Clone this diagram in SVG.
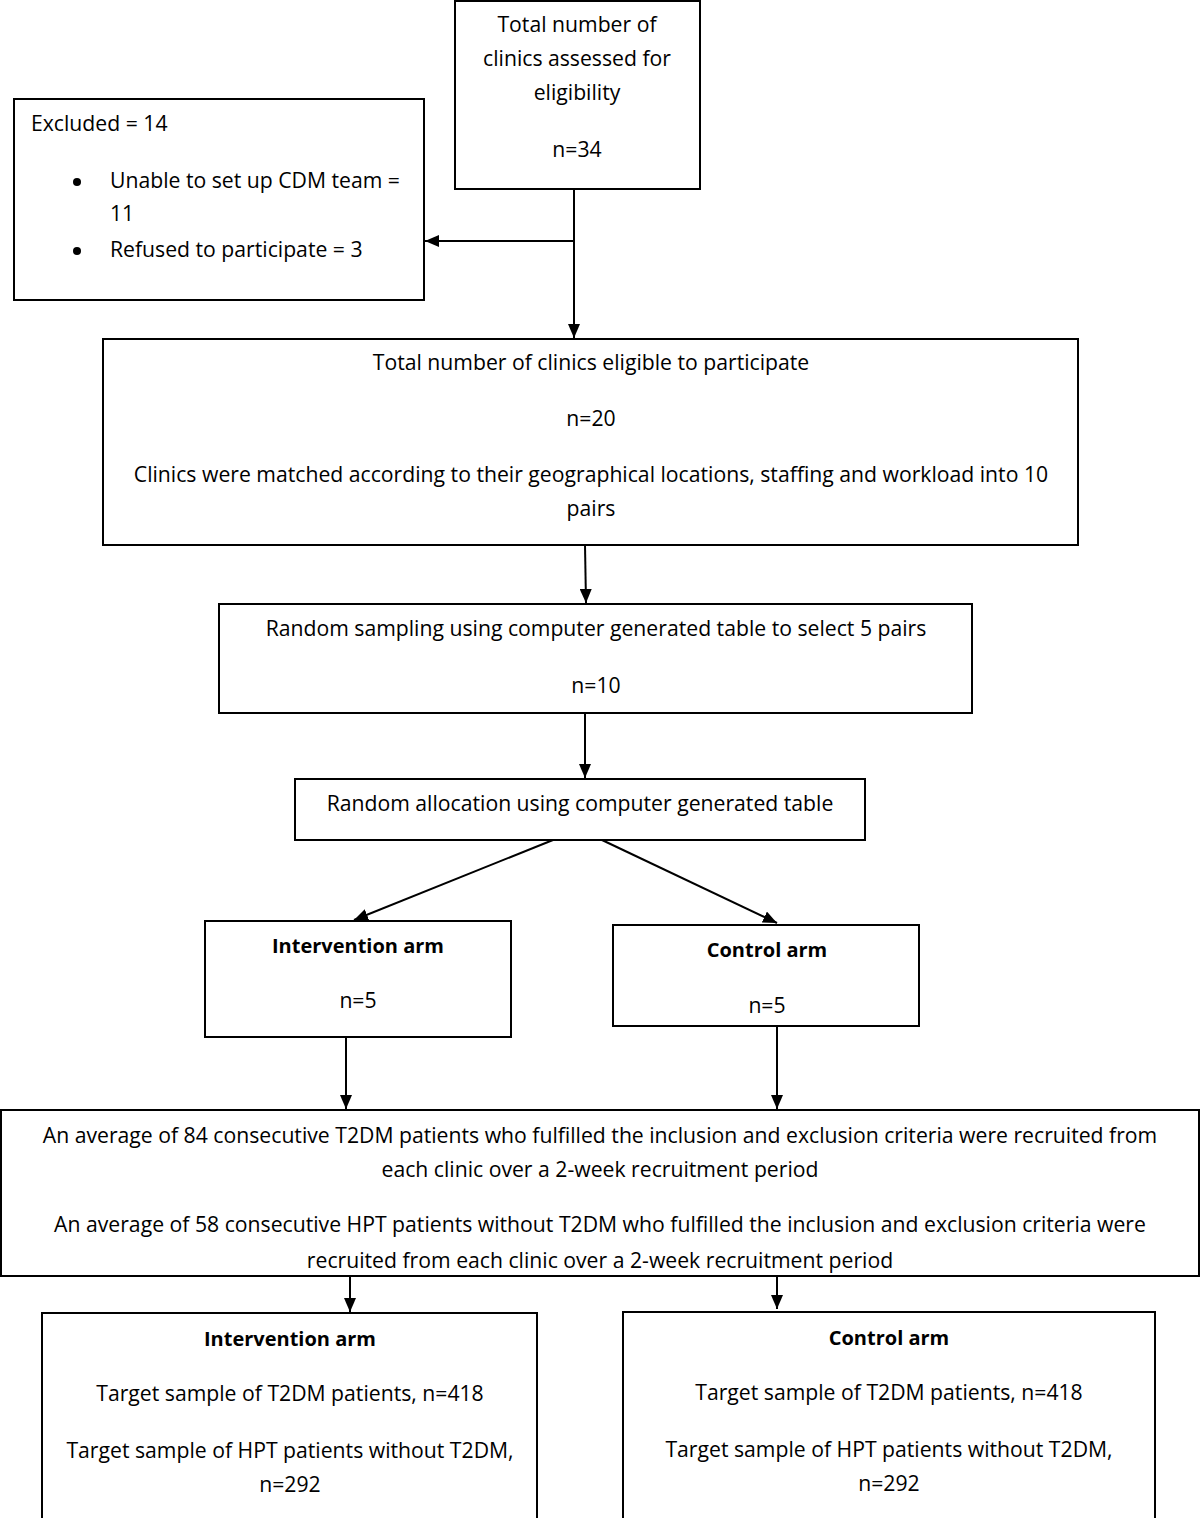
<svg xmlns="http://www.w3.org/2000/svg" width="1200" height="1518" viewBox="0 0 1200 1518">
<style>
.box{fill:#fff;stroke:#000;stroke-width:2}
text{font-family:"Open Sans","Liberation Sans",Arial,sans-serif;font-size:21.2px;fill:#000}
.c{text-anchor:middle}
.b{font-weight:bold;font-size:20px}
.ln{stroke:#000;stroke-width:2;fill:none}
</style>
<defs>
<marker id="ah" markerWidth="14" markerHeight="12" refX="14" refY="6" orient="auto" markerUnits="userSpaceOnUse">
<path d="M0,0 L14,6 L0,12 Z" fill="#000"/>
</marker>
<clipPath id="clipG"><rect x="2" y="1111" width="1196" height="164"/></clipPath>
</defs>
<rect width="1200" height="1518" fill="#fff"/>

<g id="connectors">
<line class="ln" x1="574" y1="189" x2="574" y2="338" marker-end="url(#ah)"/>
<line class="ln" x1="574" y1="241" x2="425" y2="241" marker-end="url(#ah)"/>
<line class="ln" x1="585" y1="545" x2="586" y2="603" marker-end="url(#ah)"/>
<line class="ln" x1="585" y1="713" x2="585" y2="778" marker-end="url(#ah)"/>
<line class="ln" x1="553" y1="840" x2="354" y2="920" marker-end="url(#ah)"/>
<line class="ln" x1="602" y1="840" x2="777" y2="923" marker-end="url(#ah)"/>
<line class="ln" x1="346" y1="1037" x2="346" y2="1109" marker-end="url(#ah)"/>
<line class="ln" x1="777" y1="1026" x2="777" y2="1109" marker-end="url(#ah)"/>
<line class="ln" x1="350" y1="1276" x2="350" y2="1312" marker-end="url(#ah)"/>
<line class="ln" x1="777" y1="1276" x2="777" y2="1309" marker-end="url(#ah)"/>
</g>

<g id="node-total">
<rect class="box" x="455" y="1" width="245" height="188"/>
<text class="c" x="577" y="32">Total number of</text>
<text class="c" x="577" y="66">clinics assessed for</text>
<text class="c" x="577" y="100">eligibility</text>
<text class="c" x="577" y="157">n=34</text>
</g>

<g id="node-excluded">
<rect class="box" x="14" y="99" width="410" height="201"/>
<text x="31" y="131">Excluded = 14</text>
<circle cx="77" cy="182" r="4" fill="#000"/>
<text x="110" y="188">Unable to set up CDM team =</text>
<text x="110" y="221">11</text>
<circle cx="77" cy="251" r="4" fill="#000"/>
<text x="110" y="257">Refused to participate = 3</text>
</g>

<g id="node-eligible">
<rect class="box" x="103" y="339" width="975" height="206"/>
<text class="c" x="591" y="370">Total number of clinics eligible to participate</text>
<text class="c" x="591" y="426">n=20</text>
<text class="c" x="591" y="482">Clinics were matched according to their geographical locations, staffing and workload into 10</text>
<text class="c" x="591" y="516">pairs</text>
</g>

<g id="node-sampling">
<rect class="box" x="219" y="604" width="753" height="109"/>
<text class="c" x="596" y="636">Random sampling using computer generated table to select 5 pairs</text>
<text class="c" x="596" y="693">n=10</text>
</g>

<g id="node-allocation">
<rect class="box" x="295" y="779" width="570" height="61"/>
<text class="c" x="580" y="811">Random allocation using computer generated table</text>
</g>

<g id="node-intervention">
<rect class="box" x="205" y="921" width="306" height="116"/>
<text class="c b" x="358" y="953">Intervention arm</text>
<text class="c" x="358" y="1008">n=5</text>
</g>

<g id="node-control">
<rect class="box" x="613" y="925" width="306" height="101"/>
<text class="c b" x="767" y="957">Control arm</text>
<text class="c" x="767" y="1013">n=5</text>
</g>

<g id="node-recruit">
<rect class="box" x="1" y="1110" width="1198" height="166"/>
<g clip-path="url(#clipG)">
<text class="c" x="600" y="1143">An average of 84 consecutive T2DM patients who fulfilled the inclusion and exclusion criteria were recruited from</text>
<text class="c" x="600" y="1177">each clinic over a 2-week recruitment period</text>
<text class="c" x="600" y="1232">An average of 58 consecutive HPT patients without T2DM who fulfilled the inclusion and exclusion criteria were</text>
<text class="c" x="600" y="1268">recruited from each clinic over a 2-week recruitment period</text>
</g>
</g>

<g id="node-int-target">
<rect class="box" x="42" y="1313" width="495" height="210"/>
<text class="c b" x="290" y="1346">Intervention arm</text>
<text class="c" x="290" y="1401">Target sample of T2DM patients, n=418</text>
<text class="c" x="290" y="1458">Target sample of HPT patients without T2DM,</text>
<text class="c" x="290" y="1492">n=292</text>
</g>

<g id="node-ctrl-target">
<rect class="box" x="623" y="1312" width="532" height="211"/>
<text class="c b" x="889" y="1345">Control arm</text>
<text class="c" x="889" y="1400">Target sample of T2DM patients, n=418</text>
<text class="c" x="889" y="1457">Target sample of HPT patients without T2DM,</text>
<text class="c" x="889" y="1491">n=292</text>
</g>
</svg>
